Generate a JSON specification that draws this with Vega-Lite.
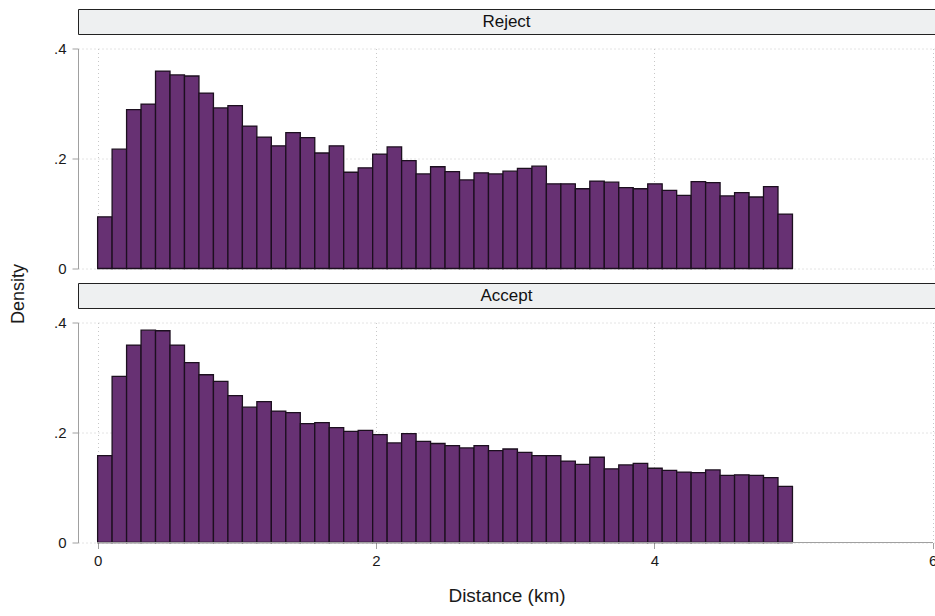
{
  "$schema": "https://vega.github.io/schema/vega-lite/v6.json",
  "padding": {"left": 9, "top": 8, "right": 0, "bottom": 0},
  "bounds": "flush",
  "spacing": 14.5,
  "config": {
    "font": "Liberation Sans",
    "view": {"stroke": null},
    "axis": {
      "gridColor": "#c8c8c8",
      "gridDash": [1, 3],
      "gridWidth": 1,
      "domainColor": "#a0a0a0",
      "tickColor": "#a0a0a0",
      "labelColor": "#1a1a1a",
      "titleColor": "#1a1a1a",
      "labelFont": "Liberation Sans",
      "titleFont": "Liberation Sans",
      "titleFontWeight": "normal"
    }
  },
  "datasets": {
    "reject": [
      {"bin_start": 0, "bin_end": 0.104, "density": 0.094},
      {"bin_start": 0.104, "bin_end": 0.208, "density": 0.217},
      {"bin_start": 0.208, "bin_end": 0.312, "density": 0.289},
      {"bin_start": 0.312, "bin_end": 0.416, "density": 0.299},
      {"bin_start": 0.416, "bin_end": 0.52, "density": 0.359},
      {"bin_start": 0.52, "bin_end": 0.624, "density": 0.352},
      {"bin_start": 0.624, "bin_end": 0.728, "density": 0.35},
      {"bin_start": 0.728, "bin_end": 0.832, "density": 0.319},
      {"bin_start": 0.832, "bin_end": 0.936, "density": 0.292},
      {"bin_start": 0.936, "bin_end": 1.04, "density": 0.296},
      {"bin_start": 1.04, "bin_end": 1.144, "density": 0.259},
      {"bin_start": 1.144, "bin_end": 1.248, "density": 0.239},
      {"bin_start": 1.248, "bin_end": 1.352, "density": 0.223},
      {"bin_start": 1.352, "bin_end": 1.456, "density": 0.247},
      {"bin_start": 1.456, "bin_end": 1.56, "density": 0.238},
      {"bin_start": 1.56, "bin_end": 1.664, "density": 0.21},
      {"bin_start": 1.664, "bin_end": 1.768, "density": 0.223},
      {"bin_start": 1.768, "bin_end": 1.872, "density": 0.175},
      {"bin_start": 1.872, "bin_end": 1.976, "density": 0.183},
      {"bin_start": 1.976, "bin_end": 2.08, "density": 0.208},
      {"bin_start": 2.08, "bin_end": 2.184, "density": 0.221},
      {"bin_start": 2.184, "bin_end": 2.288, "density": 0.196},
      {"bin_start": 2.288, "bin_end": 2.392, "density": 0.172},
      {"bin_start": 2.392, "bin_end": 2.496, "density": 0.185},
      {"bin_start": 2.496, "bin_end": 2.6, "density": 0.176},
      {"bin_start": 2.6, "bin_end": 2.704, "density": 0.161},
      {"bin_start": 2.704, "bin_end": 2.808, "density": 0.174},
      {"bin_start": 2.808, "bin_end": 2.912, "density": 0.172},
      {"bin_start": 2.912, "bin_end": 3.016, "density": 0.177},
      {"bin_start": 3.016, "bin_end": 3.12, "density": 0.182},
      {"bin_start": 3.12, "bin_end": 3.224, "density": 0.186},
      {"bin_start": 3.224, "bin_end": 3.328, "density": 0.154},
      {"bin_start": 3.328, "bin_end": 3.432, "density": 0.154},
      {"bin_start": 3.432, "bin_end": 3.536, "density": 0.145},
      {"bin_start": 3.536, "bin_end": 3.64, "density": 0.159},
      {"bin_start": 3.64, "bin_end": 3.744, "density": 0.157},
      {"bin_start": 3.744, "bin_end": 3.848, "density": 0.147},
      {"bin_start": 3.848, "bin_end": 3.952, "density": 0.145},
      {"bin_start": 3.952, "bin_end": 4.056, "density": 0.154},
      {"bin_start": 4.056, "bin_end": 4.16, "density": 0.142},
      {"bin_start": 4.16, "bin_end": 4.264, "density": 0.133},
      {"bin_start": 4.264, "bin_end": 4.368, "density": 0.158},
      {"bin_start": 4.368, "bin_end": 4.472, "density": 0.156},
      {"bin_start": 4.472, "bin_end": 4.576, "density": 0.132},
      {"bin_start": 4.576, "bin_end": 4.68, "density": 0.138},
      {"bin_start": 4.68, "bin_end": 4.784, "density": 0.13},
      {"bin_start": 4.784, "bin_end": 4.888, "density": 0.149},
      {"bin_start": 4.888, "bin_end": 4.992, "density": 0.099}
    ],
    "accept": [
      {"bin_start": 0, "bin_end": 0.104, "density": 0.158},
      {"bin_start": 0.104, "bin_end": 0.208, "density": 0.302},
      {"bin_start": 0.208, "bin_end": 0.312, "density": 0.359},
      {"bin_start": 0.312, "bin_end": 0.416, "density": 0.386},
      {"bin_start": 0.416, "bin_end": 0.52, "density": 0.385},
      {"bin_start": 0.52, "bin_end": 0.624, "density": 0.359},
      {"bin_start": 0.624, "bin_end": 0.728, "density": 0.327},
      {"bin_start": 0.728, "bin_end": 0.832, "density": 0.305},
      {"bin_start": 0.832, "bin_end": 0.936, "density": 0.293},
      {"bin_start": 0.936, "bin_end": 1.04, "density": 0.267},
      {"bin_start": 1.04, "bin_end": 1.144, "density": 0.246},
      {"bin_start": 1.144, "bin_end": 1.248, "density": 0.256},
      {"bin_start": 1.248, "bin_end": 1.352, "density": 0.239},
      {"bin_start": 1.352, "bin_end": 1.456, "density": 0.236},
      {"bin_start": 1.456, "bin_end": 1.56, "density": 0.216},
      {"bin_start": 1.56, "bin_end": 1.664, "density": 0.218},
      {"bin_start": 1.664, "bin_end": 1.768, "density": 0.209},
      {"bin_start": 1.768, "bin_end": 1.872, "density": 0.202},
      {"bin_start": 1.872, "bin_end": 1.976, "density": 0.204},
      {"bin_start": 1.976, "bin_end": 2.08, "density": 0.196},
      {"bin_start": 2.08, "bin_end": 2.184, "density": 0.181},
      {"bin_start": 2.184, "bin_end": 2.288, "density": 0.198},
      {"bin_start": 2.288, "bin_end": 2.392, "density": 0.184},
      {"bin_start": 2.392, "bin_end": 2.496, "density": 0.18},
      {"bin_start": 2.496, "bin_end": 2.6, "density": 0.176},
      {"bin_start": 2.6, "bin_end": 2.704, "density": 0.172},
      {"bin_start": 2.704, "bin_end": 2.808, "density": 0.176},
      {"bin_start": 2.808, "bin_end": 2.912, "density": 0.167},
      {"bin_start": 2.912, "bin_end": 3.016, "density": 0.17},
      {"bin_start": 3.016, "bin_end": 3.12, "density": 0.164},
      {"bin_start": 3.12, "bin_end": 3.224, "density": 0.158},
      {"bin_start": 3.224, "bin_end": 3.328, "density": 0.158},
      {"bin_start": 3.328, "bin_end": 3.432, "density": 0.148},
      {"bin_start": 3.432, "bin_end": 3.536, "density": 0.142},
      {"bin_start": 3.536, "bin_end": 3.64, "density": 0.155},
      {"bin_start": 3.64, "bin_end": 3.744, "density": 0.134},
      {"bin_start": 3.744, "bin_end": 3.848, "density": 0.141},
      {"bin_start": 3.848, "bin_end": 3.952, "density": 0.144},
      {"bin_start": 3.952, "bin_end": 4.056, "density": 0.135},
      {"bin_start": 4.056, "bin_end": 4.16, "density": 0.131},
      {"bin_start": 4.16, "bin_end": 4.264, "density": 0.128},
      {"bin_start": 4.264, "bin_end": 4.368, "density": 0.127},
      {"bin_start": 4.368, "bin_end": 4.472, "density": 0.132},
      {"bin_start": 4.472, "bin_end": 4.576, "density": 0.122},
      {"bin_start": 4.576, "bin_end": 4.68, "density": 0.123},
      {"bin_start": 4.68, "bin_end": 4.784, "density": 0.122},
      {"bin_start": 4.784, "bin_end": 4.888, "density": 0.118},
      {"bin_start": 4.888, "bin_end": 4.992, "density": 0.102}
    ]
  },
  "vconcat": [
    {
      "width": 857,
      "height": 25,
      "view": {"fill": "#eef0f1", "stroke": "#222222", "strokeWidth": 1},
      "data": {"values": [{"panel": "Reject"}]},
      "mark": {"type": "text", "fontSize": 17, "color": "#111111", "baseline": "middle", "align": "center"},
      "encoding": {"text": {"field": "panel"}}
    },
    {
      "width": 857,
      "height": 220,
      "data": {"name": "reject"},
      "mark": {"type": "bar", "fill": "#673173", "stroke": "#1c0f1f", "strokeWidth": 1.3},
      "encoding": {
        "x": {
          "field": "bin_start", "type": "quantitative",
          "scale": {"domain": [-0.141, 6.016], "nice": false, "zero": false},
          "axis": {"values": [0, 2, 4, 6], "labels": false, "ticks": false, "domain": false, "grid": true, "title": null}
        },
        "x2": {"field": "bin_end"},
        "y": {
          "field": "density", "type": "quantitative",
          "scale": {"domain": [0, 0.4], "nice": false},
          "axis": {
            "values": [0, 0.2, 0.4],
            "labelExpr": "datum.value == 0 ? '0' : replace(format(datum.value, '.1f'), '0.', '.')",
            "grid": true, "tickSize": 6, "labelPadding": 6, "labelFontSize": 15,
            "title": "Density", "titleFontSize": 18, "titleX": -60, "titleY": 245,
            "titleAngle": 270, "titleAlign": "center", "titleBaseline": "middle"
          }
        },
        "y2": {"datum": 0}
      }
    },
    {
      "width": 857,
      "height": 25,
      "view": {"fill": "#eef0f1", "stroke": "#222222", "strokeWidth": 1},
      "data": {"values": [{"panel": "Accept"}]},
      "mark": {"type": "text", "fontSize": 17, "color": "#111111", "baseline": "middle", "align": "center"},
      "encoding": {"text": {"field": "panel"}}
    },
    {
      "width": 857,
      "height": 220,
      "data": {"name": "accept"},
      "layer": [
        {
          "mark": {"type": "bar", "fill": "#673173", "stroke": "#1c0f1f", "strokeWidth": 1.3},
          "encoding": {
            "x": {
              "field": "bin_start", "type": "quantitative",
              "scale": {"domain": [-0.141, 6.016], "nice": false, "zero": false},
              "axis": {
                "values": [0, 2, 4, 6], "format": "d", "domain": false, "grid": true, "tickSize": 6,
                "labelPadding": 5, "labelFontSize": 15,
                "title": "Distance (km)", "titleFontSize": 19, "titlePadding": 18
              }
            },
            "x2": {"field": "bin_end"},
            "y": {
              "field": "density", "type": "quantitative",
              "scale": {"domain": [0, 0.4], "nice": false},
              "axis": {
                "values": [0, 0.2, 0.4],
                "labelExpr": "datum.value == 0 ? '0' : replace(format(datum.value, '.1f'), '0.', '.')",
                "grid": true, "tickSize": 6, "labelPadding": 6, "labelFontSize": 15,
                "title": null
              }
            },
            "y2": {"datum": 0}
          }
        },
        {
          "mark": {"type": "rule", "color": "#a0a0a0", "strokeWidth": 1},
          "encoding": {
            "x": {"datum": 0, "type": "quantitative"},
            "x2": {"datum": 6},
            "y": {"datum": 0, "type": "quantitative"}
          }
        }
      ]
    }
  ]
}
